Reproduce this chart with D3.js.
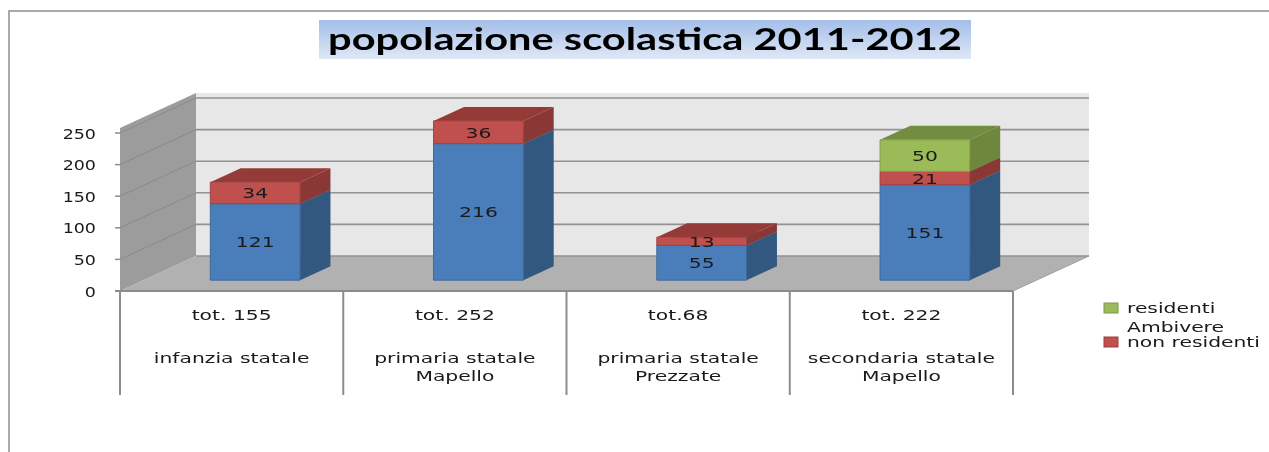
<!DOCTYPE html>
<html lang="en">

<head>
    <meta charset="UTF-8">
    <title>popolazione scolastica 2011-2012</title>
    <script src="https://d3js.org/d3.v7.min.js"></script>
    <style>
        body {
            margin: 0;
            background: #fff;
        }
        svg {
            display: block;
            filter: blur(0.45px);
        }
        text {
            font-family: "DejaVu Sans", sans-serif;
            fill: #1a1a1a;
        }
    </style>
</head>

<body>
    <svg id="chart" width="1269" height="452"></svg>
    <script>
        const titleText = "popolazione scolastica 2011-2012";
        const totals = ["tot. 155", "tot. 252", "tot.68", "tot. 222"];
        const categories = [
            ["infanzia statale"],
            ["primaria statale", "Mapello"],
            ["primaria statale", "Prezzate"],
            ["secondaria statale", "Mapello"]
        ];
        const seriesKeys = ["base", "nonResidenti", "residentiAmbivere"];
        const baseValues = [121, 216, 55, 151];
        const nonResidentiValues = [34, 36, 13, 21];
        const residentiAmbivereValues = [0, 0, 0, 50];
        const yTicks = [0, 50, 100, 150, 200, 250];
        const legendItems = [
            { key: "residentiAmbivere", lines: ["residenti", "Ambivere"] },
            { key: "nonResidenti", lines: ["non residenti"] }
        ];

        const colors = {
            base: { front: "#4a7ebb", side: "#33587f", top: "#3c6797" },
            nonResidenti: { front: "#c0504d", side: "#8a3836", top: "#943a37" },
            residentiAmbivere: { front: "#9bbb59", side: "#6e873c", top: "#728c40" }
        };

        const svg = d3.select("#chart");

        // front plane of the 3d box, the depth just shifts things up and right
        const x = d3.scaleBand().domain(d3.range(categories.length)).range([120, 1013]);
        const y = d3.scaleLinear().domain([0, 250]).range([291, 133]);
        const depthX = d3.scaleLinear().domain([0, 1]).range([0, 76]);
        const depthY = d3.scaleLinear().domain([0, 1]).range([0, -35]);
        const barDepth = [0.31, 0.71];
        const barWidth = x.bandwidth() * 0.402;

        const pt = (px, py, d) => [px + depthX(d), py + depthY(d)];
        const line = d3.line();
        const poly = pts => line(pts) + "Z";

        function label(g, str, px, py, size, stretch, anchor) {
            return g.append("text")
                .attr("transform", `translate(${px},${py}) scale(${stretch},1)`)
                .attr("text-anchor", anchor || "middle")
                .attr("font-size", size)
                .text(str);
        }

        // outer frame
        svg.append("path")
            .attr("d", line([[9, 452], [9, 11], [1269, 11]]))
            .attr("fill", "none")
            .attr("stroke", "#8f8f8f")
            .attr("stroke-width", 1.5);

        // title
        const defs = svg.append("defs");
        const grad = defs.append("linearGradient")
            .attr("id", "titleGrad")
            .attr("x1", "0%").attr("y1", "0%")
            .attr("x2", "0%").attr("y2", "100%");
        grad.append("stop").attr("offset", "0%").attr("stop-color", "#a3bee8");
        grad.append("stop").attr("offset", "100%").attr("stop-color", "#dfe8f6");

        const titleBox = { left: 319, right: 971, top: 20, bottom: 59 };
        svg.append("rect")
            .attr("x", titleBox.left)
            .attr("y", titleBox.top)
            .attr("width", titleBox.right - titleBox.left)
            .attr("height", titleBox.bottom - titleBox.top)
            .attr("fill", "url(#titleGrad)");
        svg.append("text")
            .attr("x", (titleBox.left + titleBox.right) / 2)
            .attr("y", 50)
            .attr("text-anchor", "middle")
            .attr("textLength", 634)
            .attr("lengthAdjust", "spacingAndGlyphs")
            .style("font-family", "Lato, sans-serif")
            .style("font-weight", 700)
            .style("fill", "#000")
            .attr("font-size", 31)
            .text(titleText);

        // walls and floor
        const x0 = x.range()[0], x1 = x.range()[1];
        const yMax = y(250) - 5;

        svg.append("path")
            .attr("d", poly([pt(x0, yMax, 1), pt(x1, yMax, 1), pt(x1, y(0), 1), pt(x0, y(0), 1)]))
            .attr("fill", "#e7e7e7");
        svg.append("path")
            .attr("d", poly([pt(x0, y(0), 0), pt(x0, y(0), 1), pt(x1, y(0), 1), pt(x1, y(0), 0)]))
            .attr("fill", "#b1b1b1");
        svg.append("path")
            .attr("d", poly([pt(x0, y(0), 0), pt(x0, yMax, 0), pt(x0, yMax, 1), pt(x0, y(0), 1)]))
            .attr("fill", "#9c9c9c");

        // gridlines, back wall and side wall
        const grid = svg.append("g")
            .attr("fill", "none")
            .attr("stroke", "#929292")
            .attr("stroke-width", 1.6);
        yTicks.forEach(t => {
            grid.append("path").attr("d", line([pt(x0, y(t), 1), pt(x1, y(t), 1)]));
            if (t > 0) {
                grid.append("path")
                    .attr("d", line([pt(x0, y(t), 0), pt(x0, y(t), 1)]))
                    .attr("stroke", "#8a8a8a")
                    .attr("stroke-width", 1);
            }
        });

        // right edge of the floor
        svg.append("path")
            .attr("d", line([pt(x1, y(0), 1), pt(x1, y(0), 0)]))
            .attr("stroke", "#a0a0a0")
            .attr("fill", "none");

        // stacked bars
        const stackData = categories.map((c, i) => ({
            i,
            base: baseValues[i],
            nonResidenti: nonResidentiValues[i],
            residentiAmbivere: residentiAmbivereValues[i]
        }));
        const stacked = d3.stack().keys(seriesKeys)(stackData);

        const bars = svg.append("g");
        stacked.forEach(layer => {
            const c = colors[layer.key];
            layer.forEach(seg => {
                if (seg[1] === seg[0]) return;
                const i = seg.data.i;
                const left = x(i) + (x.bandwidth() - barWidth) / 2;
                const right = left + barWidth;
                const d0 = barDepth[0], d1 = barDepth[1];
                const yb = y(seg[0]), yt = y(seg[1]);
                const g = bars.append("g");
                // side
                g.append("path")
                    .attr("d", poly([pt(right, yb, d0), pt(right, yb, d1), pt(right, yt, d1), pt(right, yt, d0)]))
                    .attr("fill", c.side);
                // top
                g.append("path")
                    .attr("d", poly([pt(left, yt, d0), pt(right, yt, d0), pt(right, yt, d1), pt(left, yt, d1)]))
                    .attr("fill", c.top);
                // front
                g.append("path")
                    .attr("d", poly([pt(left, yb, d0), pt(right, yb, d0), pt(right, yt, d0), pt(left, yt, d0)]))
                    .attr("fill", c.front)
                    .attr("stroke", d3.color(c.front).darker(0.5))
                    .attr("stroke-width", 1);
            });
        });

        // value labels go on top of every bar
        stacked.forEach(layer => {
            layer.forEach(seg => {
                if (seg[1] === seg[0]) return;
                const i = seg.data.i;
                const c = pt(x(i) + x.bandwidth() / 2, y((seg[0] + seg[1]) / 2), barDepth[0]);
                label(svg, seg[1] - seg[0], c[0], c[1] + 5.5, 14.5, 1.4);
            });
        });

        // axis lines
        const axes = svg.append("g")
            .attr("stroke", "#8c8c8c")
            .attr("stroke-width", 2)
            .attr("fill", "none");
        axes.append("path").attr("d", line([[x0 - 5, y(0)], [x1, y(0)]]));
        d3.range(categories.length + 1).forEach(i => {
            const px = i < categories.length ? x(i) : x1;
            axes.append("path").attr("d", line([[px, y(0)], [px, 395]]));
        });
        yTicks.forEach(t => {
            axes.append("path")
                .attr("d", line([[x0 - 5, y(t)], [x0, y(t)]]))
                .attr("stroke-width", 1.5);
            label(svg, t, 96, y(t) + 5.5, 14, 1.25, "end");
        });

        // category labels
        categories.forEach((lines, i) => {
            const cx = x(i) + x.bandwidth() / 2;
            label(svg, totals[i], cx, 320, 14.5, 1.4);
            lines.forEach((l, j) => label(svg, l, cx, 363 + j * 18, 14.5, 1.4));
        });

        // legend
        const legendX = 1104;
        const legendRows = [313, 347];
        legendItems.forEach((item, k) => {
            svg.append("rect")
                .attr("x", legendX)
                .attr("y", legendRows[k] - 10)
                .attr("width", 14)
                .attr("height", 10)
                .attr("fill", colors[item.key].front)
                .attr("stroke", d3.color(colors[item.key].front).darker(0.6));
            item.lines.forEach((l, j) => {
                label(svg, l, legendX + 23, legendRows[k] + j * 19, 14.5, 1.4, "start");
            });
        });
    </script>
</body>
</html>
